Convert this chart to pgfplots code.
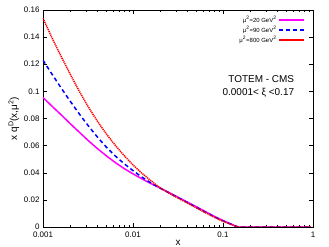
\documentclass[border=0pt]{standalone}
\usepackage{fontspec}
\setmainfont{Liberation Sans}
\usepackage{pgfplots}
\pgfplotsset{compat=1.18}
\definecolor{gpmag}{RGB}{255,0,255}
\definecolor{gpblue}{RGB}{0,0,255}
\definecolor{gpred}{RGB}{255,0,0}
\begin{document}
\begin{tikzpicture}
\begin{axis}[
  at={(0,0)}, anchor=south west,
  scale only axis, width=270bp, height=217bp,
  xmode=log, xmin=0.001, xmax=1,
  ymin=0, ymax=0.16,
  xtick={0.001,0.01,0.1,1}, xticklabels={0.001,0.01,0.1,1},
  ytick={0,0.02,0.04,0.06,0.08,0.1,0.12,0.14,0.16},
  scaled y ticks=false,
  yticklabel style={/pgf/number format/fixed,/pgf/number format/precision=2},
  xticklabel style={yshift=-1bp},
  /pgf/number format/assume math mode=true,
  tick label style={font=\fontsize{8}{9}\selectfont},
  tick align=inside, major tick length=4bp, minor tick length=2bp,
  axis line style={line width=0.5pt},
  every tick/.style={line width=0.4pt},
  xlabel={x}, ylabel={x q\textsuperscript{D}(x,μ\textsuperscript{2})},
  label style={font=\fontsize{10}{12}\selectfont},
  xlabel style={yshift=4bp},
  ylabel style={yshift=-2bp},
  legend cell align=right, legend plot pos=right,
  legend style={draw=none, fill=none, at={(0.975,0.985)}, anchor=north east,
    font=\fontsize{6}{7}\selectfont, row sep=-1.5bp, inner sep=1bp},
  legend image code/.code={\draw[#1] (0bp,0bp) -- (25bp,0bp);},
]
\addplot[gpmag, line width=1.5pt, smooth, tension=0.4] coordinates {
(0.001,0.0955) (0.001259,0.0891) (0.001585,0.0828) (0.001995,0.0764) (0.002512,0.0701)
(0.003162,0.0639) (0.003981,0.0581) (0.005012,0.0527) (0.00631,0.0477) (0.007943,0.0432)
(0.01,0.0392) (0.01259,0.0355) (0.01585,0.032) (0.01995,0.0288) (0.02512,0.0254)
(0.03162,0.0220) (0.03981,0.0185) (0.05012,0.0151) (0.0631,0.0115) (0.07943,0.0080)
(0.1,0.0048) (0.1259,0.0019) (0.148,0.0) (0.2,0.0) (0.5,0.0) (0.95,0.0)};
\addlegendentry{μ\textsuperscript{2}=20 GeV\textsuperscript{2}}
\addplot[gpblue, line width=1.5pt, dash pattern=on 4bp off 3bp, smooth, tension=0.4] coordinates {
(0.001,0.123) (0.001259,0.1127) (0.001585,0.1027) (0.001995,0.093) (0.002512,0.0837)
(0.003162,0.0749) (0.003981,0.0667) (0.005012,0.0592) (0.00631,0.0526) (0.007943,0.0468)
(0.01,0.0416) (0.01259,0.0368) (0.01585,0.0325) (0.01995,0.0287) (0.02512,0.0252)
(0.03162,0.0217) (0.03981,0.0182) (0.05012,0.0147) (0.0631,0.0111) (0.07943,0.0077)
(0.1,0.0045) (0.1259,0.0018) (0.148,0.0) (0.2,0.0) (0.5,0.0) (0.95,0.0)};
\addlegendentry{μ\textsuperscript{2}=90 GeV\textsuperscript{2}}
\addplot[gpred, line width=1.5pt, dash pattern=on 1.2bp off 0.8bp, smooth, tension=0.4] coordinates {
(0.001,0.154) (0.001259,0.1395) (0.001585,0.126) (0.001995,0.113) (0.002512,0.1005)
(0.003162,0.089) (0.003981,0.0785) (0.005012,0.069) (0.00631,0.0605) (0.007943,0.0528)
(0.01,0.0458) (0.01259,0.0396) (0.01585,0.0341) (0.01995,0.029) (0.02512,0.025)
(0.03162,0.0213) (0.03981,0.0178) (0.05012,0.0142) (0.0631,0.0107) (0.07943,0.0073)
(0.1,0.0042) (0.1259,0.0016) (0.148,0.0) (0.2,0.0) (0.5,0.0) (0.95,0.0)};
\addlegendentry{μ\textsuperscript{2}=800 GeV\textsuperscript{2}}
\node[anchor=east, font=\fontsize{10}{12}\selectfont, inner sep=0pt] at (axis cs:0.62,0.1089) {TOTEM - CMS};
\node[anchor=east, font=\fontsize{10}{12}\selectfont, inner sep=0pt] at (axis cs:0.62,0.0993) {0.0001< ξ <0.17};
\end{axis}
\pgfresetboundingbox
\path[use as bounding box] (-43bp,-20bp) rectangle (286bp,227bp);
\end{tikzpicture}
\end{document}
